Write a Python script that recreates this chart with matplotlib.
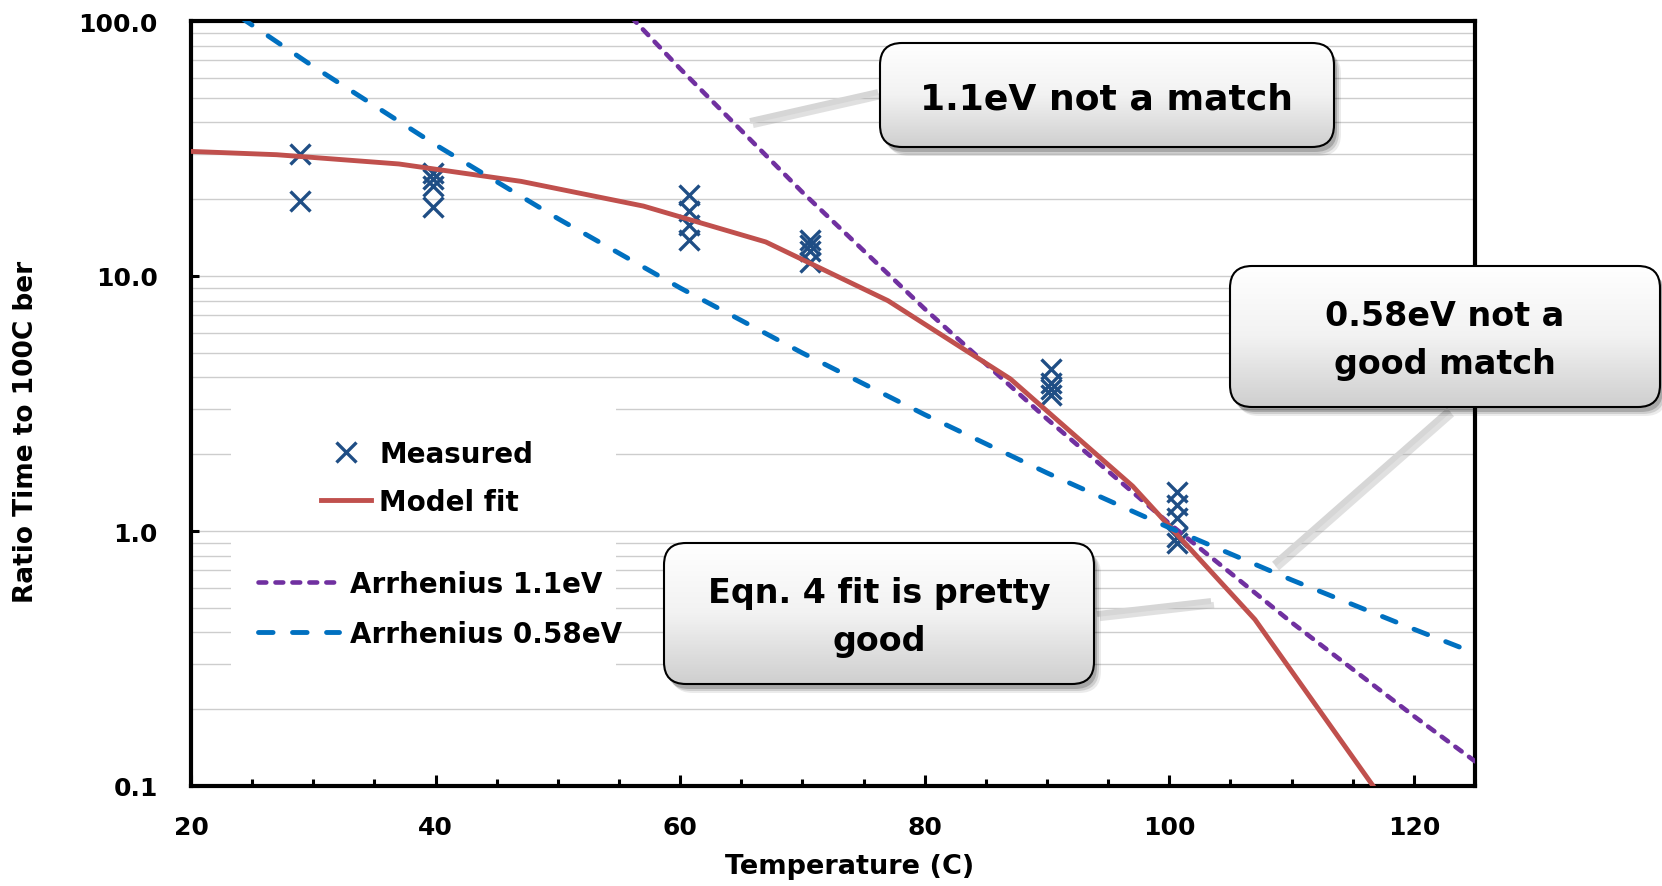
import numpy as np
import matplotlib
matplotlib.use("Agg")
import matplotlib.pyplot as plt
from matplotlib.patches import FancyBboxPatch, Rectangle
from matplotlib.colors import LinearSegmentedColormap
from matplotlib.ticker import FixedLocator, MultipleLocator

plt.rcParams['font.family'] = ['DejaVu Sans']
plt.rcParams['font.weight'] = 'bold'

# measured points (temperature C, ratio)
meas_t = [28.9, 28.9, 39.8, 39.8, 39.8, 39.8, 60.7, 60.7, 60.7, 60.7,
          70.6, 70.6, 70.6, 70.6, 90.3, 90.3, 90.3, 90.3,
          100.6, 100.6, 100.6, 100.6, 100.6]
meas_r = [30.0, 19.7, 25.3, 24.0, 22.6, 18.6, 20.8, 18.0, 15.8, 13.9,
          13.8, 13.2, 12.5, 11.3, 4.3, 3.8, 3.6, 3.4,
          1.42, 1.27, 1.12, 0.95, 0.90]

# model fit
fit_t = [17, 27, 37, 47, 57, 67, 77, 87, 97, 107, 117]
fit_r = [31.2, 29.9, 27.5, 23.5, 18.8, 13.6, 8.0, 3.95, 1.5, 0.45, 0.095]

# arrhenius lines
arr11_t = [56, 60, 70, 80, 90, 100, 110, 120, 125]
arr11_r = [103.6, 65.0, 21.3, 7.43, 2.75, 1.07, 0.438, 0.188, 0.125]
arr058_t = [24, 30, 40, 50, 60, 70, 80, 90, 100, 110, 120, 125]
arr058_r = [103.8, 66.3, 32.7, 16.8, 8.98, 4.99, 2.86, 1.69, 1.03, 0.643, 0.412, 0.332]

xticks = [20, 40, 60, 80, 100, 120]
yticks = [0.1, 1.0, 10.0, 100.0]
ytick_labels = ['0.1', '1.0', '10.0', '100.0']

W, H = 1662, 887
fig = plt.figure(figsize=(W / 100, H / 100), dpi=100)
ax = fig.add_axes([191 / W, 1 - 787 / H, (1475 - 191) / W, (787 - 22) / H])

ax.set_yscale('log')
ax.set_xlim(20, 125)
ax.set_ylim(0.1, 100)
ax.set_axisbelow(True)
ax.grid(True, which='both', axis='y', color='#CDCDCD', lw=1.0)
ax.grid(False, axis='x')

ax.xaxis.set_major_locator(FixedLocator(xticks))
ax.xaxis.set_minor_locator(MultipleLocator(5))
ax.yaxis.set_major_locator(FixedLocator(yticks))
ax.set_yticklabels(ytick_labels)
ax.yaxis.set_minor_locator(FixedLocator([m * 10.0 ** e for e in (-1, 0, 1) for m in range(2, 10)]))
ax.tick_params(axis='x', which='major', direction='in', length=8, width=2.2, labelsize=18, pad=21)
ax.tick_params(axis='x', which='minor', direction='in', length=5, width=2.2)
ax.tick_params(axis='y', which='major', direction='in', length=6, width=2.2, labelsize=18, pad=24)
ax.tick_params(axis='y', which='minor', length=0)
for s in ax.spines.values():
    s.set_linewidth(3)
    s.set_color('black')

ax.plot(meas_t, meas_r, linestyle='none', marker='x', ms=14, mew=2.4,
        color='#1F4E85', label='Measured', zorder=3)
ax.plot(arr11_t, arr11_r, color='#7030A0', lw=3.3, dashes=(1.7, 2.0),
        dash_capstyle='round', label='Arrhenius 1.1eV', zorder=4)
ax.plot(fit_t, fit_r, color='#C0504D', lw=3.5, label='Model fit', zorder=5)
ax.plot(arr058_t, arr058_r, color='#0070C0', lw=3.5, dashes=(3.0, 4.0),
        dash_capstyle='round', label='Arrhenius 0.58eV', zorder=6)

# white background behind legend (1.0 gridline stays visible)
def ax_frac(px, py):
    return (px - 191) / (1475 - 191), (787 - py) / (787 - 22)

for (x0, y0, x1, y1) in [(231, 392, 616, 528), (231, 538, 616, 690)]:
    fx0, fy1 = ax_frac(x0, y1)
    fx1, fy0 = ax_frac(x1, y0)
    ax.add_patch(Rectangle((fx0, fy1), fx1 - fx0, fy0 - fy1, transform=ax.transAxes,
                           facecolor='white', edgecolor='none', zorder=1.5))

h, l = ax.get_legend_handles_labels()
hd = dict(zip(l, h))
lx, ly = ax_frac(321, 441)
leg1 = ax.legend([hd['Measured'], hd['Model fit']], ['Measured', 'Model fit'],
                 loc='upper left', bbox_to_anchor=(lx, ly), frameon=False,
                 fontsize=20, handlelength=1.8, handletextpad=0.3, labelspacing=0.72,
                 borderpad=0, borderaxespad=0)
ax.add_artist(leg1)
lx, ly = ax_frac(258, 571)
ax.legend([hd['Arrhenius 1.1eV'], hd['Arrhenius 0.58eV']], ['Arrhenius 1.1eV', 'Arrhenius 0.58eV'],
          loc='upper left', bbox_to_anchor=(lx, ly), frameon=False,
          fontsize=20, handlelength=2.9, handletextpad=0.4, labelspacing=0.79,
          borderpad=0, borderaxespad=0)

fig.text(26 / W, 1 - 432 / H, 'Ratio Time to 100C ber', rotation=90, ha='center', va='center',
         fontsize=19, fontweight='bold')
fig.text(850 / W, 1 - 867 / H, 'Temperature (C)', ha='center', va='center',
         fontsize=19.5, fontweight='bold')

# callouts drawn in pixel space on an overlay
ov = fig.add_axes([0, 0, 1, 1], zorder=10)
ov.patch.set_alpha(0)
ov.axis('off')
cmap = LinearSegmentedColormap.from_list('g', ['#FFFFFF', '#F2F2F2', '#CFCFCF'])
grad = np.linspace(0, 1, 200).reshape(-1, 1)

connectors = [((750, 122), (878, 93)), ((1274, 565), (1449, 411)), ((1097, 615), (1211, 602))]
for (p0, p1) in connectors:
    ov.plot([p0[0] + 3, p1[0] + 3], [p0[1] + 4, p1[1] + 4], color='#9A9A9A', alpha=0.3, lw=4.5,
            solid_capstyle='butt', zorder=1)
    ov.plot([p0[0], p1[0]], [p0[1], p1[1]], color='#D6D6D6', lw=4.2, solid_capstyle='butt', zorder=2)

boxes = [
    ((880, 44, 1334, 148), '1.1eV not a match', 26),
    ((1230, 267, 1660, 408), '0.58eV not a\ngood match', 24),
    ((664, 544, 1094, 685), 'Eqn. 4 fit is pretty\ngood', 24),
]
for (x0, y0, x1, y1), txt, fs in boxes:
    for k, a in [(9, 0.08), (7, 0.12), (5, 0.18)]:
        sh = FancyBboxPatch((x0 + k - 2, y0 + k), x1 - x0, y1 - y0,
                            boxstyle='round,pad=0,rounding_size=22',
                            facecolor='black', edgecolor='none', alpha=a, zorder=3)
        ov.add_patch(sh)
    box = FancyBboxPatch((x0, y0), x1 - x0, y1 - y0, boxstyle='round,pad=0,rounding_size=22',
                         facecolor='none', edgecolor='black', lw=1.5, zorder=5)
    ov.add_patch(box)
    im = ov.imshow(grad, extent=(x0, x1, y1, y0), aspect='auto', cmap=cmap, zorder=4,
                   origin='upper', interpolation='bilinear')
    im.set_clip_path(box)
    ov.text((x0 + x1) / 2, (y0 + y1) / 2 + 3, txt, ha='center', va='center', fontsize=fs,
            fontweight='bold', linespacing=1.6, zorder=6)

ov.set_xlim(0, W)
ov.set_ylim(H, 0)

fig.savefig('out.png', dpi=100)
